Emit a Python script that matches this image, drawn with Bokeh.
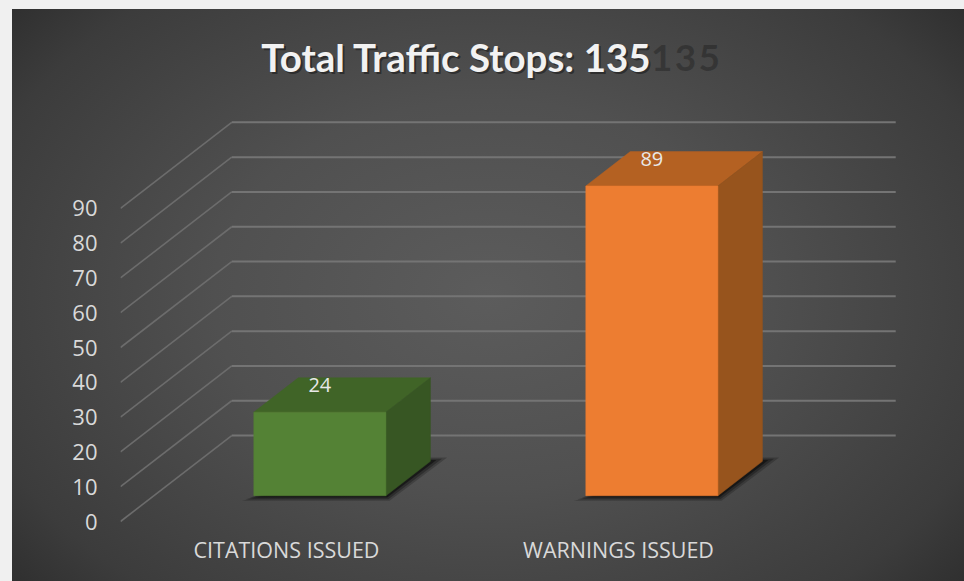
from bokeh.plotting import figure
from bokeh.models import Range1d, FixedTicker, Label
from bokeh.core.properties import value
from bokeh.embed import file_html
from bokeh.resources import INLINE

categories = ["CITATIONS ISSUED", "WARNINGS ISSUED"]
counts = [24, 89]
value_ticks = [0, 10, 20, 30, 40, 50, 60, 70, 80, 90]
chart_title = "Total Traffic Stops: 135"
front_colors = ["#548235", "#ed7d31"]
top_colors = ["#406427", "#b46122"]
side_colors = ["#375623", "#97541d"]

W, H = 964, 581
PX_U, PX_V = 332.0, 3.48      # pixels per category unit / per value unit
LEFT, BOTTOM, RIGHT, TOP = 120, 56, 64, 9
DX, DY = 0.335, 24.7          # depth shift, in data units, of the back wall
BAR = 0.398
D0, D1 = 0.3, 0.7

u_end = (W - LEFT - RIGHT) / PX_U
v_start = -(525 - 521) / PX_V
v_end = v_start + (H - BOTTOM - TOP) / PX_V


def P(u, v, d):
    return u + DX * d, v + DY * d


p = figure(width=W, height=H, output_backend="svg", toolbar_location=None,
           x_range=Range1d(0, u_end), y_range=Range1d(v_start, v_end),
           min_border_left=LEFT, min_border_right=RIGHT, min_border_top=TOP, min_border_bottom=BOTTOM,
           background_fill_alpha=0, border_fill_alpha=0, outline_line_color=None)
p.styles = {"background": "radial-gradient(ellipse 72% 85% at 50% 50%, #5c5c5c 0%, #505050 40%, #3c3c3c 78%, #272727 100%) no-repeat 12px 9px / 952px 572px"}
p.grid.visible = False

xs, ys = [], []
for t in value_ticks:
    a, b = P(0, t, 0), P(0, t, 1)
    xs.append([a[0], b[0]]); ys.append([a[1], b[1]])
p.multi_line(xs, ys, line_color="#6c6c6c", line_width=1.6)
xs, ys = [], []
for t in value_ticks:
    a, b = P(0, t, 1), P(2, t, 1)
    xs.append([a[0], b[0]]); ys.append([a[1], b[1]])
p.multi_line(xs, ys, line_color="#747474", line_width=2)

for i, v in enumerate(counts):
    u0, u1 = i + 0.5 - BAR / 2, i + 0.5 + BAR / 2
    # contact shadow on the floor
    for grow, alpha in ((0.036, 0.2), (0.025, 0.28), (0.013, 0.45)):
        c = [P(u0 - grow, -grow * 40, D0), P(u1 + grow * 0.3, -grow * 40, D0),
             P(u1 + grow, 0, D1 + grow * 1.2), P(u1 - 0.02, 0, D1 + grow * 1.2)]
        p.patch([q[0] for q in c], [q[1] for q in c], fill_color="#000000", fill_alpha=alpha, line_alpha=0)
    front = [P(u0, 0, D0), P(u1, 0, D0), P(u1, v, D0), P(u0, v, D0)]
    top = [P(u0, v, D0), P(u1, v, D0), P(u1, v, D1), P(u0, v, D1)]
    side = [P(u1, 0, D0), P(u1, 0, D1), P(u1, v, D1), P(u1, v, D0)]
    for poly, col in ((top, top_colors[i]), (side, side_colors[i]), (front, front_colors[i])):
        p.patch([q[0] for q in poly], [q[1] for q in poly], fill_color=col, line_color=col, line_width=0.5)
    lx, ly = P(i + 0.5, v, D0)
    p.text([lx], [ly], text=[str(v)], text_color="#e8e8e8", text_font=value("Open Sans"),
           text_font_size="20px", text_align="center", text_baseline="middle", y_offset=-27)

p.yaxis.ticker = FixedTicker(ticks=value_ticks)
p.yaxis.axis_line_color = None
p.yaxis.major_tick_line_color = None
p.yaxis.minor_tick_line_color = None
p.yaxis.major_label_standoff = 17
p.yaxis.major_label_text_font = "Open Sans"
p.yaxis.major_label_text_font_size = "22px"
p.yaxis.major_label_text_color = "#d9d9d9"

p.xaxis.ticker = FixedTicker(ticks=[0.5, 1.5])
p.xaxis.major_label_overrides = {0.5: categories[0], 1.5: categories[1]}
p.xaxis.axis_line_color = None
p.xaxis.major_tick_line_color = None
p.xaxis.minor_tick_line_color = None
p.xaxis.major_label_standoff = 3
p.xaxis.major_label_text_font = "Open Sans"
p.xaxis.major_label_text_font_size = "21.5px"
p.xaxis.major_label_text_color = "#d9d9d9"

title_u = (456 - 120) / PX_U
title_v = (521 - 56) / PX_V
ghost_u = (685 - 120) / PX_U
p.add_layout(Label(x=ghost_u, y=title_v, text="1\u200a3\u200a5", text_font="Lato", text_font_style="bold",
                   text_font_size="37px", text_color="#000000", text_alpha=0.25,
                   text_align="center", text_baseline="middle"))
p.add_layout(Label(x=title_u, y=title_v, text=chart_title, text_font="Lato", text_font_style="bold",
                   text_font_size="38.5px", text_color="#000000", text_alpha=0.4, x_offset=2, y_offset=-2,
                   text_align="center", text_baseline="middle"))
p.add_layout(Label(x=title_u, y=title_v, text=chart_title, text_font="Lato", text_font_style="bold",
                   text_font_size="38.5px", text_color="#f2f2f2",
                   text_align="center", text_baseline="middle"))

html = file_html(p, INLINE)
html = html.replace("<body>", '<body style="background:#f0f0f0">')
open("out.html", "w").write(html)
